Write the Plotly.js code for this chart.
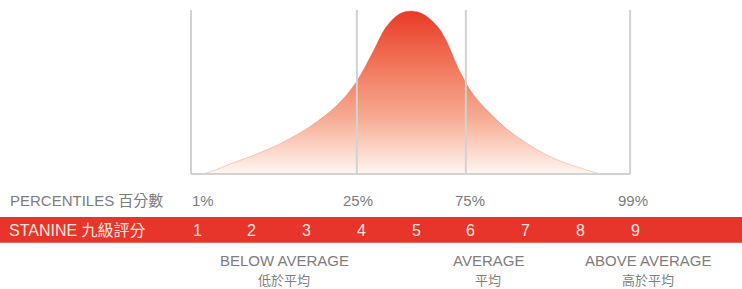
<!DOCTYPE html>
<html>
<head>
<meta charset="utf-8">
<script src="https://cdn.plot.ly/plotly-3.0.1.min.js"></script>
<style>html,body{margin:0;padding:0;background:#fff;}#chart{width:742px;height:289px;}</style>
</head>
<body>
<div id="chart"></div>
<script>
// Bell curve, x in stanine units, y as relative height (peak = 100)
const curveX = [1.12, 1.30, 1.66, 2.15, 2.57, 3.06, 3.55, 3.90, 4.20, 4.45, 4.70, 4.91, 5.12, 5.38, 5.55, 5.80, 6.04, 6.30, 6.68, 7.21, 7.58, 8.00, 8.36];
const curveY = [0, 2.0, 6.8, 13.0, 19.5, 29.0, 42.0, 56.0, 74.0, 90.0, 98.3, 100, 98.3, 91.0, 82.0, 63.0, 49.0, 39.0, 27.0, 15.0, 8.6, 3.7, 0];

const stanines = [1, 2, 3, 4, 5, 6, 7, 8, 9];
const stanineLabels = ['1', '2', '3', '4', '5', '6', '7', '8', '9'];

const percentileLabels = ['1%', '25%', '75%', '99%'];
const percentileAt = [1.11, 3.94, 5.99, 8.96];

const gridAt = [0.89, 3.92, 5.91, 8.91];

const groupLabels = ['BELOW AVERAGE', 'AVERAGE', 'ABOVE AVERAGE'];
const groupLabelsZh = ['低於平均', '平均', '高於平均'];
const groupAt = [2.59, 6.32, 9.24];

const rowTitles = ['PERCENTILES 百分數', 'STANINE 九級評分'];

const FONT = 'Liberation Sans, Arial, Noto Sans CJK TC, sans-serif';
const GREY = '#7d7d7d';
const BAND_TEXT = '#ffe4dc';
const ROW_PCT = -16.6, ROW_STA = -35, ROW_GRP = -53, ROW_ZH = -65;

const traces = [{
  x: curveX, y: curveY, type: 'scatter', mode: 'lines',
  line: {shape: 'spline', width: 0.6, color: 'rgba(225,80,60,0.45)', smoothing: 1},
  fill: 'tozeroy',
  fillgradient: {type: 'vertical', colorscale: [[0, 'rgba(255,246,242,1)'], [0.35, 'rgb(246,170,145)'], [0.7, 'rgb(240,112,85)'], [1, 'rgb(232,58,38)']]},
  hoverinfo: 'skip', showlegend: false
}];

const shapes = [];
// red band
shapes.push({type: 'rect', xref: 'paper', yref: 'y', x0: 0, x1: 1, y0: -42.3, y1: -26.4, fillcolor: '#e8352b', line: {width: 0}, layer: 'below'});
// vertical grid lines
gridAt.forEach(g => shapes.push({type: 'line', xref: 'x', yref: 'y', x0: g, x1: g, y0: 0, y1: 100.6, line: {color: '#d2d2d2', width: 2}, layer: 'above'}));
// baseline
shapes.push({type: 'line', xref: 'x', yref: 'y', x0: gridAt[0], x1: gridAt[gridAt.length - 1], y0: 0, y1: 0, line: {color: '#d2d2d2', width: 2}, layer: 'above'});

const annotations = [];
annotations.push({xref: 'paper', yref: 'y', x: 8 / 742, y: ROW_PCT, xanchor: 'left', yanchor: 'middle', text: rowTitles[0], showarrow: false, font: {family: FONT, size: 15, color: GREY}});
annotations.push({xref: 'paper', yref: 'y', x: 7 / 742, y: ROW_STA, xanchor: 'left', yanchor: 'middle', text: rowTitles[1], showarrow: false, font: {family: FONT, size: 16, color: BAND_TEXT}});
percentileLabels.forEach((t, i) => annotations.push({x: percentileAt[i], y: ROW_PCT, text: t, showarrow: false, xanchor: 'center', yanchor: 'middle', font: {family: FONT, size: 15, color: GREY}}));
stanines.forEach((s, i) => annotations.push({x: s, y: ROW_STA, text: stanineLabels[i], showarrow: false, xanchor: 'center', yanchor: 'middle', font: {family: FONT, size: 16, color: BAND_TEXT}}));
groupLabels.forEach((t, i) => {
  annotations.push({x: groupAt[i], y: ROW_GRP, text: t, showarrow: false, xanchor: 'center', yanchor: 'middle', font: {family: FONT, size: 15, color: GREY}});
  annotations.push({x: groupAt[i], y: ROW_ZH, text: groupLabelsZh[i], showarrow: false, xanchor: 'center', yanchor: 'middle', font: {family: 'Noto Sans CJK TC, sans-serif', size: 13, color: GREY}});
});

const layout = {
  width: 742, height: 289,
  margin: {l: 0, r: 0, t: 0, b: 0, pad: 0},
  paper_bgcolor: '#ffffff', plot_bgcolor: '#ffffff',
  xaxis: {range: [-2.598, 10.954], visible: false, fixedrange: true},
  yaxis: {range: [-70.6, 106.7], visible: false, fixedrange: true},
  shapes: shapes, annotations: annotations, showlegend: false
};

Plotly.newPlot('chart', traces, layout, {displayModeBar: false, staticPlot: true});
</script>
</body>
</html>
